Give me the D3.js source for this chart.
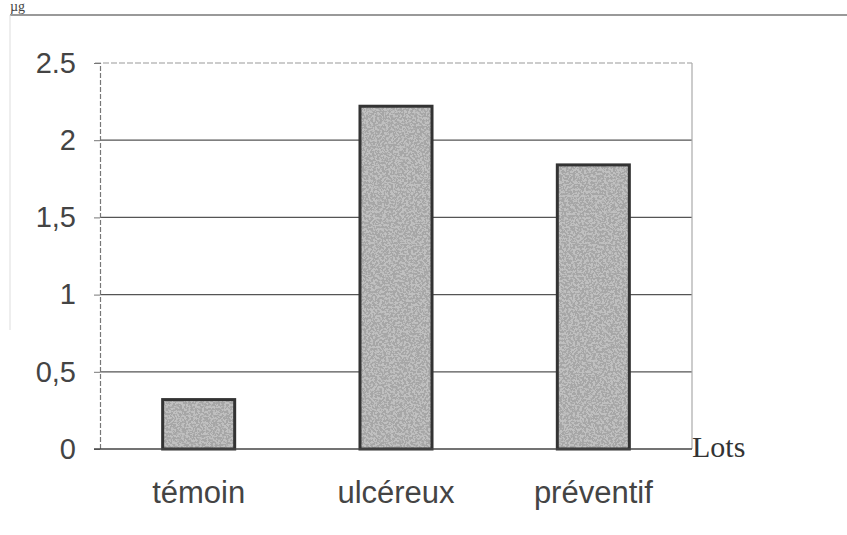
<!DOCTYPE html>
<html><head><meta charset="utf-8">
<script src="https://cdn.jsdelivr.net/npm/d3@7"></script>
<style>body{margin:0;background:#fff}svg{display:block}</style>
</head><body><svg id="c" width="847" height="535"></svg>
<script>
const categories = ["témoin", "ulcéreux", "préventif"];
const values = [0.32, 2.22, 1.84];
const tickValues = [0, 0.5, 1, 1.5, 2, 2.5];
const tickLabels = ["0", "0,5", "1", "1,5", "2", "2.5"];
const xTitle = "Lots";
const yTitle = "µg";

const svg = d3.select("#c");
const W = 847, H = 535;
const m = {left: 100, right: 155, top: 63, bottom: 86};
const x = d3.scaleBand().domain(categories).range([m.left, W - m.right]).paddingInner(0.635).paddingOuter(0.3175);
const y = d3.scaleLinear().domain([0, 2.5]).range([H - m.bottom, m.top]);

const defs = svg.append("defs");
const f = defs.append("filter").attr("id", "grain").attr("x", 0).attr("y", 0).attr("width", 1).attr("height", 1);
f.append("feTurbulence").attr("type", "fractalNoise").attr("baseFrequency", 0.45).attr("numOctaves", 3).attr("seed", 7).attr("result", "n");
f.append("feColorMatrix").attr("in", "n").attr("type", "matrix")
  .attr("values", "0 0 0 0 0.38  0 0 0 0 0.38  0 0 0 0 0.38  10 0 0 0 -4.4").attr("result", "dots");
f.append("feComposite").attr("in", "dots").attr("in2", "SourceGraphic").attr("operator", "atop");

// top rule line, faint left frame edge and title
svg.append("line").attr("x1", 10).attr("x2", W).attr("y1", 15).attr("y2", 15).attr("stroke", "#777").attr("stroke-width", 1.5);
svg.append("line").attr("x1", 10).attr("x2", 10).attr("y1", 15).attr("y2", 330).attr("stroke", "#ddd").attr("stroke-width", 1);
svg.append("text").attr("x", 10).attr("y", 11).attr("font-family", "Liberation Serif").attr("font-size", 14).attr("fill", "#444").text(yTitle);

// grid lines
const g = svg.append("g");
g.selectAll("line.grid").data(tickValues.filter(d => d > 0 && d < 2.5)).join("line")
  .attr("x1", m.left).attr("x2", W - m.right).attr("y1", d => y(d)).attr("y2", d => y(d))
  .attr("stroke", "#555").attr("stroke-width", 1.3);
g.append("line").attr("x1", m.left - 5).attr("x2", W - m.right).attr("y1", y(2.5)).attr("y2", y(2.5))
  .attr("stroke", "#999").attr("stroke-width", 1.2).attr("stroke-dasharray", "6,2");
g.append("line").attr("x1", W - m.right).attr("x2", W - m.right).attr("y1", y(2.5)).attr("y2", y(0))
  .attr("stroke", "#aaa").attr("stroke-width", 1.2);

// y axis
const yAxis = d3.axisLeft(y).tickValues(tickValues).tickFormat((d, i) => tickLabels[i]).tickSize(6).tickPadding(18);
const ya = svg.append("g").attr("transform", `translate(${m.left},0)`).call(yAxis);
ya.select(".domain").attr("stroke", "#777").attr("stroke-dasharray", "5,2").attr("stroke-width", 1.2);
ya.selectAll(".tick line").attr("stroke", "#777");
ya.selectAll("text").attr("font-family", "Liberation Sans").attr("font-size", 29).attr("fill", "#444");

// bars
svg.append("g").selectAll("rect").data(values).join("rect")
  .attr("x", (d, i) => x(categories[i])).attr("width", x.bandwidth())
  .attr("y", d => y(d)).attr("height", d => y(0) - y(d))
  .attr("fill", "#c0c0c0").attr("filter", "url(#grain)");
svg.append("g").selectAll("rect").data(values).join("rect")
  .attr("x", (d, i) => x(categories[i])).attr("width", x.bandwidth())
  .attr("y", d => y(d)).attr("height", d => y(0) - y(d))
  .attr("fill", "none").attr("stroke", "#333").attr("stroke-width", 3);

svg.append("line").attr("x1", m.left - 6).attr("x2", W - m.right).attr("y1", y(0)).attr("y2", y(0)).attr("stroke", "#444").attr("stroke-width", 1.6);

// category labels
const xAxis = d3.axisBottom(x).tickSize(0).tickPadding(32);
const xa = svg.append("g").attr("transform", `translate(0,${y(0)})`).call(xAxis);
xa.select(".domain").remove();
xa.selectAll("text").attr("font-family", "Liberation Sans").attr("font-size", 31).attr("fill", "#444");

svg.append("text").attr("x", W - m.right).attr("y", y(0) + 8).attr("font-family", "Liberation Serif").attr("font-size", 30).attr("fill", "#333").text(xTitle);
</script></body></html>
